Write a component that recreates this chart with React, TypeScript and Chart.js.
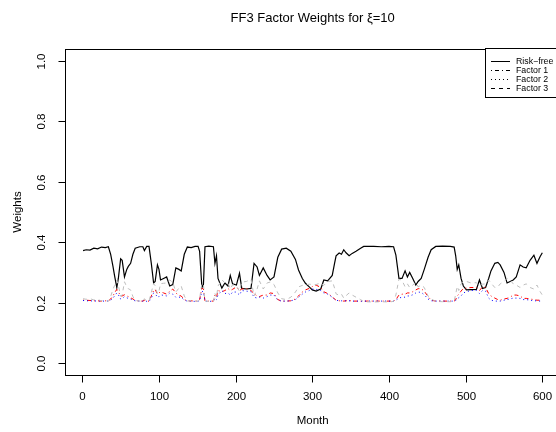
import React, { useEffect, useRef } from "react";
import { Chart, registerables } from "chart.js";
Chart.register(...registerables);

const months = [
  1, 5, 10, 15, 20, 25, 30, 34, 37, 40,
  42, 45, 47, 50, 52, 55, 58, 60, 63, 66,
  69, 75, 79, 81, 84, 87, 90, 93, 95, 98,
  100, 102, 106, 110, 114, 118, 122, 126, 129, 133,
  137, 142, 147, 151, 153, 156, 158, 160, 165, 171,
  173, 175, 177, 182, 186, 190, 193, 196, 201, 205,
  208, 214, 220, 224, 228, 231, 236, 241, 245, 250,
  255, 260, 266, 272, 278, 282, 287, 291, 296, 300,
  305, 311, 315, 320, 326, 329, 331, 335, 338, 341,
  344, 348, 352, 357, 363, 367, 380, 390, 400, 406,
  409, 413, 417, 421, 424, 427, 431, 435, 438, 442,
  446, 451, 455, 461, 470, 480, 485, 487, 489, 491,
  494, 497, 501, 507, 514, 518, 522, 526, 530, 533,
  538, 542, 545, 550, 554, 558, 562, 566, 571, 575,
  579, 584, 589, 593, 597, 600,
];

const riskFree = [
  0.372, 0.375, 0.374, 0.38, 0.378, 0.384, 0.382, 0.385, 0.36, 0.32,
  0.29, 0.25, 0.28, 0.345, 0.34, 0.285, 0.31, 0.32, 0.33, 0.36,
  0.38, 0.385, 0.385, 0.372, 0.386, 0.386, 0.33, 0.265, 0.27, 0.325,
  0.31, 0.275, 0.28, 0.285, 0.255, 0.26, 0.315, 0.31, 0.305, 0.36,
  0.384, 0.382, 0.386, 0.386, 0.37, 0.25, 0.26, 0.385, 0.387, 0.385,
  0.33, 0.355, 0.28, 0.248, 0.265, 0.255, 0.29, 0.262, 0.258, 0.297,
  0.247, 0.245, 0.247, 0.33, 0.318, 0.29, 0.315, 0.29, 0.275, 0.285,
  0.35, 0.377, 0.38, 0.37, 0.343, 0.308, 0.28, 0.264, 0.252, 0.242,
  0.238, 0.245, 0.275, 0.272, 0.29, 0.33, 0.355, 0.364, 0.36, 0.375,
  0.365, 0.355, 0.363, 0.37, 0.38, 0.386, 0.386, 0.385, 0.386, 0.385,
  0.357, 0.28, 0.28, 0.305, 0.285, 0.3, 0.28, 0.258, 0.27, 0.28,
  0.31, 0.35, 0.375, 0.386, 0.387, 0.386, 0.384, 0.355, 0.31, 0.325,
  0.28, 0.255, 0.242, 0.243, 0.244, 0.275, 0.247, 0.25, 0.28, 0.305,
  0.33, 0.333, 0.325, 0.3, 0.265, 0.27, 0.275, 0.285, 0.325, 0.318,
  0.315, 0.34, 0.357, 0.33, 0.352, 0.365,
];

const factor1 = [
  0.208, 0.208, 0.207, 0.206, 0.206, 0.205, 0.206, 0.206, 0.212, 0.222,
  0.232, 0.244, 0.236, 0.222, 0.222, 0.226, 0.222, 0.22, 0.216, 0.212,
  0.207, 0.205, 0.205, 0.208, 0.205, 0.205, 0.222, 0.24, 0.244, 0.228,
  0.232, 0.236, 0.232, 0.228, 0.238, 0.245, 0.232, 0.224, 0.222, 0.21,
  0.206, 0.206, 0.205, 0.205, 0.21, 0.248, 0.245, 0.205, 0.205, 0.205,
  0.225, 0.218, 0.24, 0.236, 0.24, 0.247, 0.24, 0.244, 0.252, 0.24,
  0.245, 0.247, 0.24, 0.23, 0.222, 0.22, 0.225, 0.225, 0.232, 0.23,
  0.21, 0.205, 0.205, 0.206, 0.212, 0.222, 0.235, 0.242, 0.247, 0.253,
  0.258, 0.25, 0.236, 0.23, 0.22, 0.212, 0.208, 0.206, 0.206, 0.205,
  0.206, 0.207, 0.205, 0.205, 0.205, 0.205, 0.205, 0.205, 0.205, 0.205,
  0.21, 0.225, 0.228, 0.228, 0.232, 0.232, 0.236, 0.242, 0.246, 0.246,
  0.238, 0.22, 0.208, 0.205, 0.205, 0.205, 0.205, 0.21, 0.222, 0.228,
  0.238, 0.247, 0.248, 0.25, 0.25, 0.24, 0.252, 0.25, 0.23, 0.222,
  0.215, 0.21, 0.208, 0.212, 0.214, 0.218, 0.225, 0.225, 0.222, 0.214,
  0.214, 0.212, 0.21, 0.208, 0.208, 0.208,
];

const factor2 = [
  0.207, 0.206, 0.206, 0.205, 0.206, 0.205, 0.205, 0.205, 0.208, 0.214,
  0.222, 0.232, 0.226, 0.212, 0.213, 0.22, 0.216, 0.214, 0.212, 0.208,
  0.206, 0.205, 0.205, 0.207, 0.204, 0.204, 0.214, 0.232, 0.23, 0.218,
  0.22, 0.226, 0.224, 0.222, 0.232, 0.228, 0.218, 0.218, 0.218, 0.208,
  0.205, 0.205, 0.204, 0.204, 0.207, 0.238, 0.235, 0.205, 0.204, 0.205,
  0.215, 0.21, 0.225, 0.24, 0.23, 0.232, 0.225, 0.235, 0.235, 0.225,
  0.24, 0.238, 0.236, 0.218, 0.215, 0.218, 0.215, 0.22, 0.225, 0.225,
  0.208, 0.205, 0.205, 0.206, 0.21, 0.218, 0.228, 0.235, 0.24, 0.245,
  0.244, 0.24, 0.232, 0.228, 0.218, 0.21, 0.208, 0.206, 0.206, 0.205,
  0.206, 0.206, 0.205, 0.205, 0.205, 0.205, 0.205, 0.205, 0.205, 0.205,
  0.208, 0.215, 0.218, 0.218, 0.222, 0.222, 0.226, 0.232, 0.235, 0.234,
  0.226, 0.212, 0.206, 0.205, 0.205, 0.205, 0.205, 0.207, 0.214, 0.216,
  0.222, 0.232, 0.236, 0.24, 0.24, 0.23, 0.24, 0.238, 0.215, 0.208,
  0.205, 0.205, 0.205, 0.208, 0.21, 0.212, 0.215, 0.215, 0.214, 0.21,
  0.21, 0.208, 0.206, 0.206, 0.205, 0.205,
];

const factor3 = [
  0.213, 0.211, 0.213, 0.209, 0.21, 0.206, 0.207, 0.204, 0.22, 0.244,
  0.256, 0.274, 0.258, 0.221, 0.225, 0.269, 0.252, 0.246, 0.242, 0.22,
  0.207, 0.205, 0.205, 0.213, 0.205, 0.205, 0.234, 0.263, 0.256, 0.229,
  0.238, 0.263, 0.264, 0.265, 0.275, 0.267, 0.235, 0.248, 0.255, 0.222,
  0.205, 0.207, 0.205, 0.205, 0.213, 0.264, 0.26, 0.205, 0.204, 0.205,
  0.23, 0.217, 0.255, 0.276, 0.265, 0.266, 0.245, 0.259, 0.255, 0.238,
  0.268, 0.27, 0.277, 0.222, 0.245, 0.272, 0.245, 0.265, 0.268, 0.26,
  0.232, 0.213, 0.21, 0.218, 0.235, 0.252, 0.257, 0.259, 0.261, 0.26,
  0.26, 0.265, 0.257, 0.27, 0.272, 0.248, 0.229, 0.224, 0.228, 0.215,
  0.223, 0.232, 0.225, 0.218, 0.21, 0.203, 0.202, 0.203, 0.202, 0.204,
  0.225, 0.278, 0.274, 0.252, 0.262, 0.25, 0.258, 0.268, 0.252, 0.258,
  0.25, 0.222, 0.212, 0.204, 0.203, 0.203, 0.205, 0.228, 0.254, 0.24,
  0.262, 0.268, 0.27, 0.265, 0.266, 0.255, 0.261, 0.262, 0.275, 0.265,
  0.25, 0.252, 0.262, 0.27, 0.28, 0.275, 0.262, 0.258, 0.25, 0.258,
  0.262, 0.25, 0.245, 0.258, 0.237, 0.225,
];

const xTicks = [0, 100, 200, 300, 400, 500, 600];
const xTickLabels = ["0", "100", "200", "300", "400", "500", "600"];
const yTicks = [0, 0.2, 0.4, 0.6, 0.8, 1.0];
const yTickLabels = ["0.0", "0.2", "0.4", "0.6", "0.8", "1.0"];
const seriesNames = ["Risk\u2212free", "Factor 1", "Factor 2", "Factor 3"];
const titleText = "FF3 Factor Weights for \u03BE=10";
const xTitle = "Month";
const yTitle = "Weights";

const W = 580;
const H = 432;
const FONT = '"Liberation Sans", Arial, Helvetica, sans-serif';

const seriesStyles = [
  { color: "#000000", width: 1.2, dash: [] as number[] },
  { color: "#FF0000", width: 1, dash: [1, 3, 4, 3] },
  { color: "#0000FF", width: 1, dash: [1, 3] },
  { color: "#BEBEBE", width: 1, dash: [4, 4] },
];

const rPlot = {
  id: "rPlot",
  afterDraw(chart: any) {
    const ctx = chart.ctx as CanvasRenderingContext2D;
    const area = chart.chartArea;
    const xs = chart.scales.x;
    const ys = chart.scales.y;
    ctx.save();
    ctx.strokeStyle = "#000";
    ctx.fillStyle = "#000";
    ctx.lineWidth = 1;
    ctx.setLineDash([]);
    const L = Math.round(area.left) + 0.5;
    const T = Math.round(area.top) + 0.5;
    const R = Math.round(area.right) + 0.5;
    const B = Math.round(area.bottom) + 0.5;
    ctx.strokeRect(L, T, R - L, B - T);

    ctx.font = `11.5px ${FONT}`;
    ctx.textAlign = "center";
    ctx.textBaseline = "middle";
    xTicks.forEach((v, i) => {
      const px = Math.round(xs.getPixelForValue(v)) + 0.5;
      ctx.beginPath();
      ctx.moveTo(px, B);
      ctx.lineTo(px, B + 7);
      ctx.stroke();
      ctx.fillText(xTickLabels[i], px, 397);
    });
    yTicks.forEach((v, i) => {
      const py = Math.round(ys.getPixelForValue(v)) + 0.5;
      ctx.beginPath();
      ctx.moveTo(L, py);
      ctx.lineTo(L - 7, py);
      ctx.stroke();
      ctx.save();
      ctx.translate(42, py);
      ctx.rotate(-Math.PI / 2);
      ctx.fillText(yTickLabels[i], 0, 0);
      ctx.restore();
    });

    const cx = (area.left + area.right) / 2;
    const cy = (area.top + area.bottom) / 2;
    ctx.fillText(xTitle, cx, 421);
    ctx.save();
    ctx.translate(18, cy);
    ctx.rotate(-Math.PI / 2);
    ctx.fillText(yTitle, 0, 0);
    ctx.restore();
    ctx.font = `13px ${FONT}`;
    ctx.fillText(titleText, cx, 18);

    // legend
    const lx = 485.5;
    const ly = T - 1;
    const lh = 49;
    ctx.fillStyle = "#fff";
    ctx.fillRect(lx, ly, R - lx, lh);
    ctx.strokeStyle = "#000";
    ctx.strokeRect(lx, ly, R - lx, lh);
    ctx.font = `8.8px ${FONT}`;
    ctx.textAlign = "left";
    ctx.fillStyle = "#000";
    seriesNames.forEach((name, i) => {
      const yy = Math.round(ly + 12 + i * 9.3) + 0.5;
      ctx.beginPath();
      ctx.setLineDash(seriesStyles[i].dash);
      ctx.lineWidth = 1;
      ctx.strokeStyle = "#000";
      ctx.moveTo(491, yy);
      ctx.lineTo(510, yy);
      ctx.stroke();
      ctx.setLineDash([]);
      ctx.fillText(name, 516, yy);
    });
    ctx.restore();
  },
};

export default function App() {
  const ref = useRef<HTMLCanvasElement | null>(null);
  useEffect(() => {
    if (!ref.current) return;
    const seriesData = [riskFree, factor1, factor2, factor3];
    const chart = new Chart(ref.current, {
      type: "line",
      data: {
        datasets: seriesData.map((vals, i) => ({
          label: seriesNames[i],
          data: months.map((m, j) => ({ x: m, y: vals[j] })),
          borderColor: seriesStyles[i].color,
          borderWidth: seriesStyles[i].width,
          borderDash: seriesStyles[i].dash,
          pointRadius: 0,
          fill: false,
          tension: 0,
          order: 4 - i,
        })),
      },
      options: {
        responsive: false,
        animation: false,
        devicePixelRatio: 1,
        layout: {
          padding: { left: 64.7, top: 48.9, right: W - 560.7, bottom: H - 375.1 },
        },
        scales: {
          x: { type: "linear", display: false, min: -22.96, max: 623.96 },
          y: { type: "linear", display: false, min: -0.04, max: 1.04 },
        },
        plugins: {
          legend: { display: false },
          tooltip: { enabled: false },
          title: { display: false },
        },
        events: [],
      },
      plugins: [rPlot],
    });
    return () => chart.destroy();
  }, []);
  return (
    <div
      style={{
        position: "fixed",
        left: 0,
        top: 0,
        width: 556,
        height: 432,
        overflow: "hidden",
        background: "#fff",
      }}
    >
      <canvas ref={ref} width={W} height={H} style={{ display: "block", width: W, height: H }} />
    </div>
  );
}
